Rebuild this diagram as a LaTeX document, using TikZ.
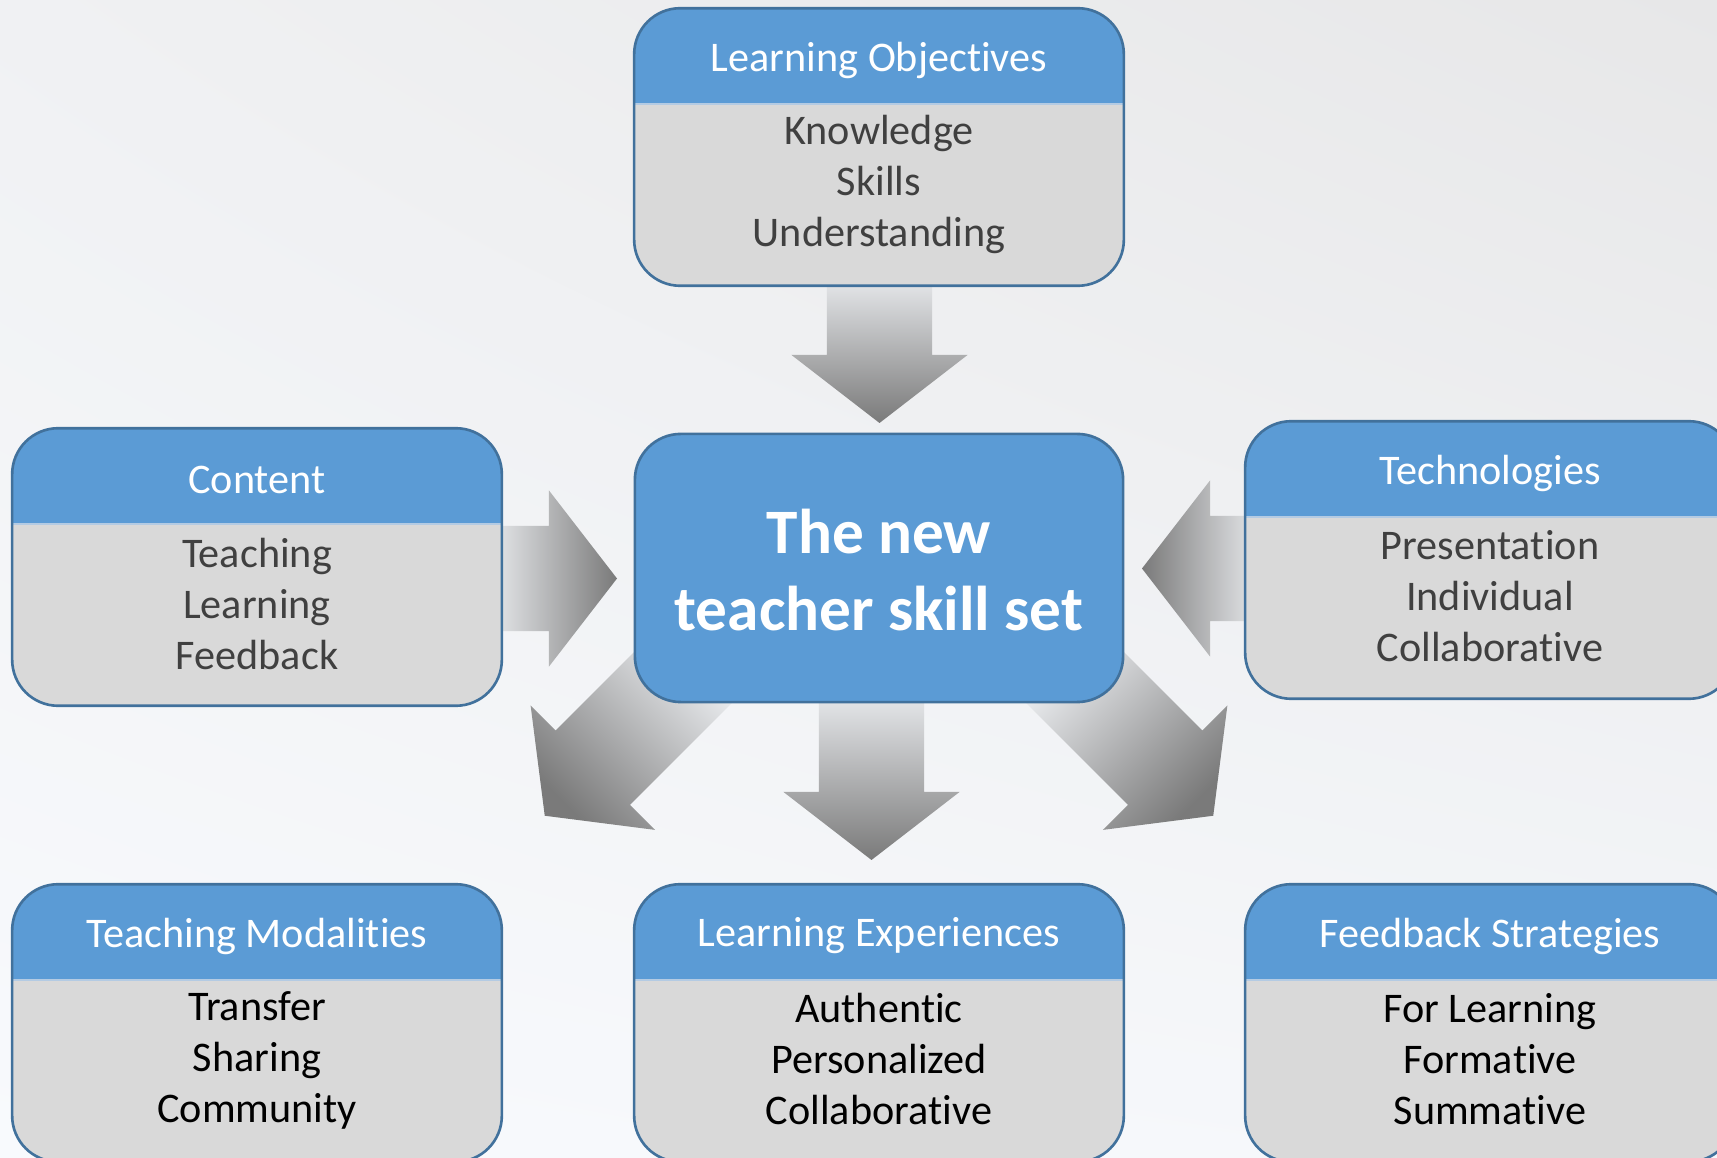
\documentclass[tikz,border=0pt]{standalone}
\usepackage{fontspec}
\setmainfont{Carlito}[Ligatures={NoCommon}]
\usetikzlibrary{calc,shadings}
\newcommand{\nolig}{\kern0pt }
\definecolor{hdrblue}{HTML}{5B9BD5}
\definecolor{bordblue}{HTML}{41719C}
\definecolor{bodygray}{HTML}{D9D9D9}
\definecolor{sepcol}{HTML}{B4CBE3}
\definecolor{darktext}{HTML}{404040}
\definecolor{arrlight}{HTML}{F0F2F5}
\definecolor{arrdark}{HTML}{7A7A7A}
\definecolor{bgUL}{RGB}{240,241,243}
\definecolor{bgUR}{RGB}{231,231,232}
\definecolor{bgLL}{RGB}{248,250,253}
\definecolor{bgLR}{RGB}{245,247,250}
\newcommand{\blockarr}[3]{%
  \coordinate (hb) at ($(#2)!0.68cm!(#1)$);
  \shade[#3] ($(#1)!0.525cm!90:(#2)$) -- ($(hb)!0.525cm!90:(#2)$) -- ($(hb)!0.88cm!90:(#2)$) -- (#2) -- ($(hb)!0.88cm!-90:(#2)$) -- ($(hb)!0.525cm!-90:(#2)$) -- ($(#1)!0.525cm!-90:(#2)$) -- cycle;}
\tikzset{
  card/.style={rectangle, rounded corners=0.46cm, minimum width=4.88cm, minimum height=2.76cm,
    inner sep=0pt, fill=bodygray,
    path picture={\fill[hdrblue, sharp corners] (path picture bounding box.north west) rectangle ([yshift=-0.95cm]path picture bounding box.north east);
      \draw[sepcol, line width=0.8pt, sharp corners] ([yshift=-0.95cm]path picture bounding box.north west) -- ([yshift=-0.95cm]path picture bounding box.north east);}},
  cardline/.style={draw=bordblue, line width=0.75pt, rounded corners=0.46cm},
  hubbox/.style={rectangle, rounded corners=0.46cm, minimum width=4.88cm, minimum height=2.68cm,
    inner sep=0pt, fill=hdrblue, draw=bordblue, line width=0.75pt},
  hdrtxt/.style={text=white, font=\fontsize{12}{14.5}\selectfont, inner sep=0pt},
  bodytxt/.style={align=center, font=\fontsize{12}{14.5}\selectfont, inner sep=0pt},
  hubtxt/.style={align=center, text=white, font=\fontsize{18}{21.9}\selectfont\bfseries, inner sep=0pt},
}
\begin{document}
\begin{tikzpicture}[x=0.01cm, y=-0.01cm]
\useasboundingbox (0,0) rectangle (1717,1158);
\clip (0,0) rectangle (1717,1158);
\shade[upper left=bgUL, upper right=bgUR, lower left=bgLL, lower right=bgLR] (0,0) rectangle (1717,1158);

% arrow end points
\coordinate (a1b) at (879.5,265);   \coordinate (a1t) at (879.5,423);
\coordinate (a2b) at (480,578.5);   \coordinate (a2t) at (617,578.5);
\coordinate (a3b) at (1270,568.5);  \coordinate (a3t) at (1142,568.5);
\coordinate (a4b) at (871.5,680);   \coordinate (a4t) at (871.5,860);
\coordinate (a5b) at (697.75,662.75); \coordinate (a5t) at (544.75,815.75);
\coordinate (a6b) at (1060.25,662.75); \coordinate (a6t) at (1213.25,815.75);

\blockarr{a1b}{a1t}{top color=arrlight, bottom color=arrdark}
\blockarr{a2b}{a2t}{left color=arrlight, right color=arrdark}
\blockarr{a3b}{a3t}{left color=arrdark, right color=arrlight}
\blockarr{a4b}{a4t}{top color=arrlight, bottom color=arrdark}
\blockarr{a5b}{a5t}{top color=arrdark, bottom color=arrlight, shading angle=135}
\blockarr{a6b}{a6t}{top color=arrdark, bottom color=arrlight, shading angle=-135}

% boxes
\node[card] (lo) at (879,147) {};
\node[card] (ct) at (257,567) {};
\node[card] (tc) at (1490,560) {};
\node[card] (tm) at (257,1023) {};
\node[card] (le) at (879,1023) {};
\node[card] (fs) at (1490,1023) {};
\foreach \b in {lo,ct,tc,tm,le,fs}{
  \draw[cardline] (\b.north west) rectangle (\b.south east);
}
\node[hubbox] (hub) at (879,568) {};

% texts
\node[hdrtxt] (lo-h) at (879,60) {Learning Objec\nolig tives};
\node[bodytxt, text=darktext] (lo-b) at (879,184) {Knowledge\\Skills\\Understanding};
\node[hdrtxt] (ct-h) at (257,480) {Content};
\node[bodytxt, text=darktext] (ct-b) at (257,604) {Teaching\\Learning\\Feedback};
\node[hdrtxt] (tc-h) at (1490,473) {Technologies};
\node[bodytxt, text=darktext] (tc-b) at (1490,596) {Presenta\nolig tion\\Individual\\Collabora\nolig tive};
\node[hdrtxt] (tm-h) at (257,936) {Teaching Modali\nolig ties};
\node[bodytxt, text=black] (tm-b) at (257,1060) {Transfer\\Sharing\\Community};
\node[hdrtxt] (le-h) at (879,936) {Learning Experiences};
\node[bodytxt, text=black] (le-b) at (879,1059) {Authen\nolig tic\\Personalized\\Collabora\nolig tive};
\node[hdrtxt] (fs-h) at (1490,936) {Feedback Strategies};
\node[bodytxt, text=black] (fs-b) at (1490,1059) {For Learning\\Forma\nolig tive\\Summa\nolig tive};
\node[hubtxt] (hub-t) at (879,570) {The new\\teacher skill set};
\end{tikzpicture}
\end{document}
